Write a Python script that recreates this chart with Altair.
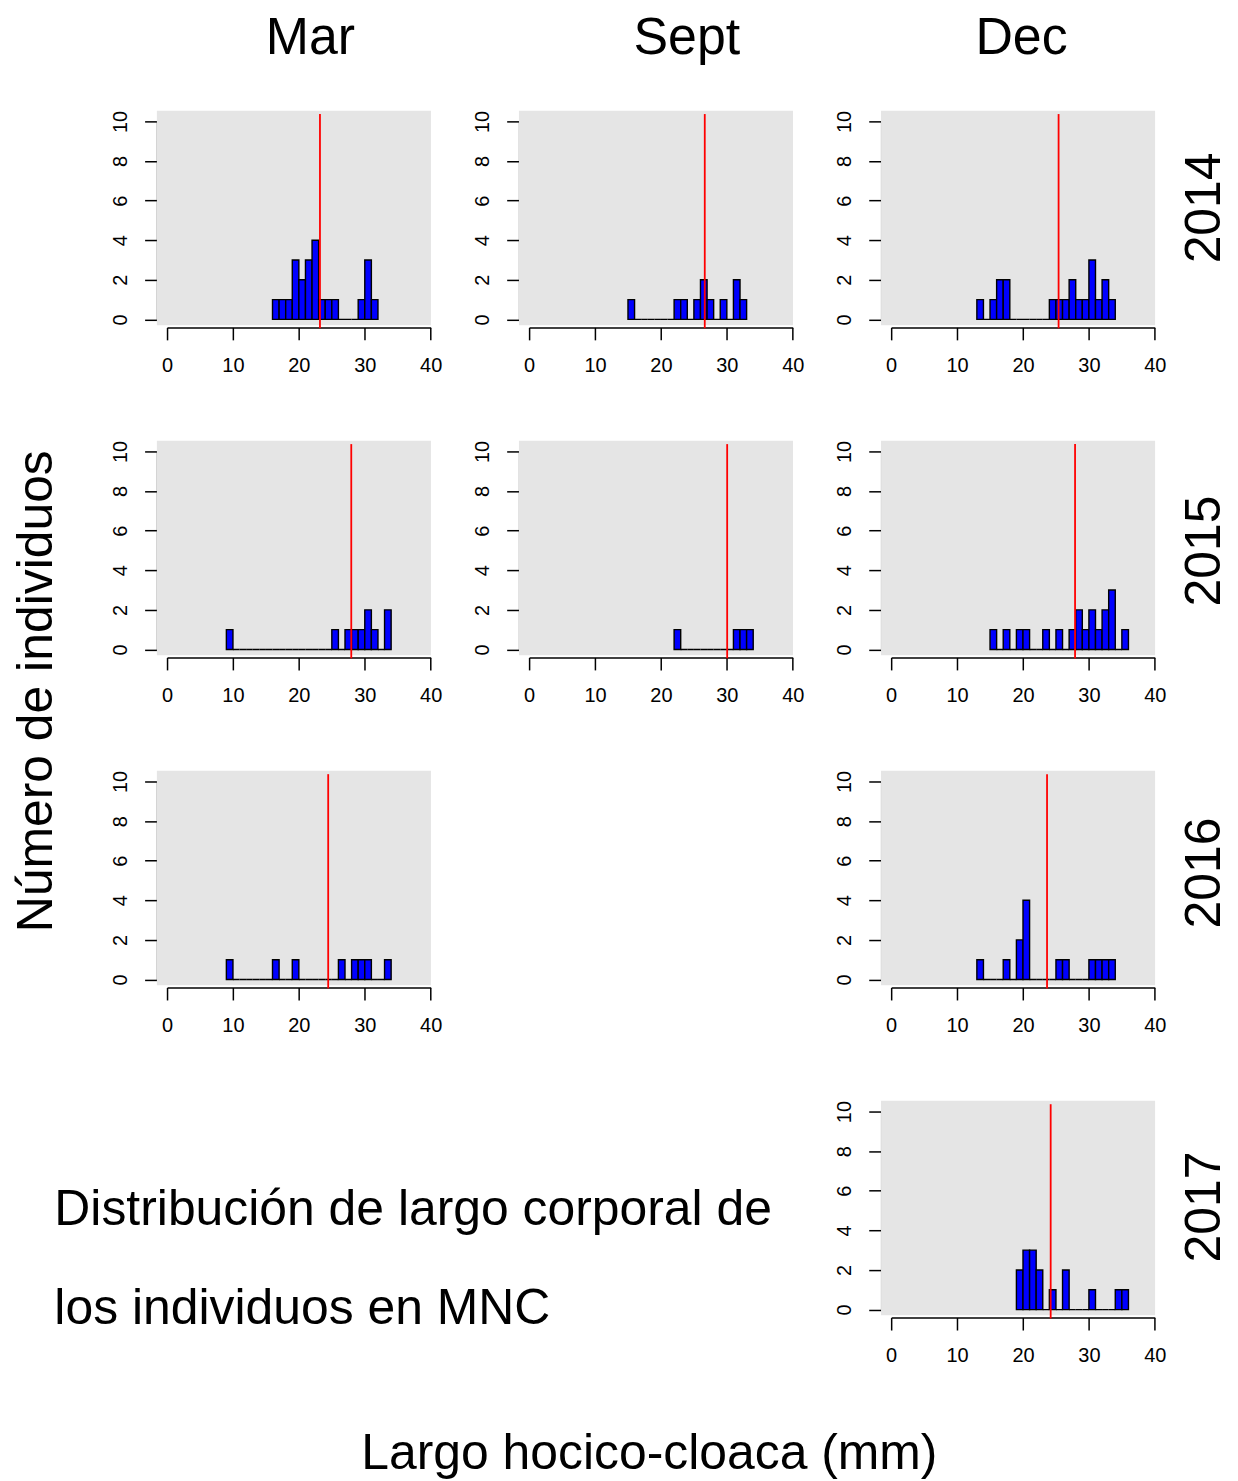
import altair as alt
import pandas as pd

MONTHS = ["Mar", "Sept", "Dec"]
YEARS = ["2014", "2015", "2016", "2017"]
X_TICKS = [0, 10, 20, 30, 40]
Y_TICKS = [0, 2, 4, 6, 8, 10]

# Counts per 1-mm size class; first class starts at the *_START value (mm)
MAR_2014_START = 16
MAR_2014 = [1, 1, 1, 3, 2, 3, 4, 1, 1, 1, 0, 0, 0, 1, 3, 1]
SEPT_2014_START = 15
SEPT_2014 = [1, 0, 0, 0, 0, 0, 0, 1, 1, 0, 1, 2, 1, 0, 1, 0, 2, 1]
DEC_2014_START = 13
DEC_2014 = [1, 0, 1, 2, 2, 0, 0, 0, 0, 0, 0, 1, 1, 1, 2, 1, 1, 3, 1, 2, 1]
MAR_2015_START = 9
MAR_2015 = [1, 0, 0, 0, 0, 0, 0, 0, 0, 0, 0, 0, 0, 0, 0, 0, 1, 0, 1, 1, 1, 2, 1, 0, 2]
SEPT_2015_START = 22
SEPT_2015 = [1, 0, 0, 0, 0, 0, 0, 0, 0, 1, 1, 1]
DEC_2015_START = 15
DEC_2015 = [1, 0, 1, 0, 1, 1, 0, 0, 1, 0, 1, 0, 1, 2, 1, 2, 1, 2, 3, 0, 1]
MAR_2016_START = 9
MAR_2016 = [1, 0, 0, 0, 0, 0, 0, 1, 0, 0, 1, 0, 0, 0, 0, 0, 0, 1, 0, 1, 1, 1, 0, 0, 1]
DEC_2016_START = 13
DEC_2016 = [1, 0, 0, 0, 1, 0, 2, 4, 0, 0, 0, 0, 1, 1, 0, 0, 0, 1, 1, 1, 1]
DEC_2017_START = 19
DEC_2017 = [2, 3, 3, 2, 0, 1, 0, 2, 0, 0, 0, 1, 0, 0, 0, 1, 1]

# mean length (red line), mm
MEANS = {
    ("2014", "Mar"): 23.2, ("2014", "Sept"): 26.65, ("2014", "Dec"): 25.4,
    ("2015", "Mar"): 27.95, ("2015", "Sept"): 30.05, ("2015", "Dec"): 27.9,
    ("2016", "Mar"): 24.45, ("2016", "Dec"): 23.65,
    ("2017", "Dec"): 24.2,
}

DESC = "Distribución de largo corporal de\nlos individuos en MNC"
Y_TITLE = "Número de individuos"
X_TITLE = "Largo hocico-cloaca (mm)"

FONT = "Liberation Sans"
W, H = 264.4, 198.6
GRAY = "#E5E5E5"
BG_X = (-1.54, 40.04)
BG_Y = (-0.29, 10.54)
LINE_Y = (-0.45, 10.37)

HEADER_DX = {"Mar": 11.5, "Sept": 26, "Dec": -1.5}
YEAR_DY = {"2014": -13, "2015": 0, "2016": -8, "2017": -4}

xs = alt.Scale(domain=[0, 40], nice=False, zero=False)
ys = alt.Scale(domain=[0, 10], nice=False, zero=False)

common_axis = dict(
    domainColor="black", tickColor="black", labelColor="black",
    domainWidth=1.5, tickWidth=1.5, tickSize=12.5, grid=False,
    labelFont=FONT, labelFontSize=20, labelFlush=False, labelOverlap=False,
    titleFont=FONT, titleFontWeight="normal", titleColor="black",
)


def panel(year, month, start, counts, header=False, row_label=False,
          y_title=False, x_title=False):
    df = pd.DataFrame({"lo": [start + i for i in range(len(counts))],
                       "count": counts})
    df["hi"] = df["lo"] + 1

    xkw = dict(common_axis, orient="bottom", values=X_TICKS, offset=8,
               labelPadding=16, title=None)
    if x_title:
        xkw.update(title=X_TITLE, titleFontSize=50, titleX=-243, titleY=151,
                   titleBaseline="alphabetic", titleAlign="center")
    ykw = dict(common_axis, orient="left", values=Y_TICKS, offset=10,
               labelPadding=18, labelAngle=270, labelAlign="center",
               labelBaseline="alphabetic", title=None)
    if y_title:
        ykw.update(title=Y_TITLE, titleFontSize=50, titleAngle=270,
                   titleBaseline="alphabetic", titleAlign="center",
                   titleX=-106, titleY=240)

    if row_label:
        bg_yax = None
        line_yax = alt.Axis(orient="right", title=year, domain=False,
                            ticks=False, labels=False, grid=False,
                            titleFont=FONT, titleFontSize=50,
                            titleFontWeight="normal", titleColor="black",
                            titleAngle=270, titleBaseline="alphabetic",
                            titleAlign="center", titleX=65,
                            titleY=H / 2 + YEAR_DY[year])
    else:
        bg_yax = alt.Axis(**ykw)
        line_yax = alt.Axis(**ykw)

    bg = alt.Chart(pd.DataFrame({"k": [0]})).mark_rect(color=GRAY).encode(
        x=alt.XDatum(BG_X[0], scale=xs, axis=alt.Axis(**xkw)),
        x2=alt.X2Datum(BG_X[1]),
        y=alt.YDatum(BG_Y[0], scale=ys, axis=bg_yax),
        y2=alt.Y2Datum(BG_Y[1]),
    )
    bars = alt.Chart(df).mark_rect(fill="#0000FF", stroke="black",
                                   strokeWidth=1.4).encode(
        x=alt.X("lo:Q", scale=xs, axis=alt.Axis(**xkw)),
        x2="hi:Q",
        y=alt.Y("count:Q", scale=ys, axis=alt.Axis(**ykw)),
        y2=alt.Y2Datum(0),
    )
    line = alt.Chart(pd.DataFrame({"k": [0]})).mark_rule(
        color="#FF0000", strokeWidth=1.8).encode(
        x=alt.XDatum(MEANS[(year, month)], scale=xs, axis=alt.Axis(**xkw)),
        y=alt.YDatum(LINE_Y[0], scale=ys, axis=line_yax),
        y2=alt.Y2Datum(LINE_Y[1]),
    )
    ch = alt.layer(bg, bars, line).properties(width=W, height=H)
    if row_label:
        ch = ch.resolve_axis(y="independent")
    if header:
        ch = ch.properties(title=alt.TitleParams(
            text=month, font=FONT, fontSize=52, fontWeight="normal",
            color="black", anchor="middle", frame="group",
            baseline="alphabetic", offset=4, dx=HEADER_DX[month]))
    return ch


def empty():
    return alt.Chart(pd.DataFrame({"k": [0]})).mark_point(opacity=0).encode(
        x=alt.value(0), y=alt.value(0)).properties(width=W, height=H)


desc = alt.Chart(pd.DataFrame({"label": [DESC]})).mark_text(
    align="left", baseline="alphabetic", font=FONT, fontSize=50,
    lineBreak="\n", lineHeight=99, color="black").encode(
    text="label:N", x=alt.value(-113), y=alt.value(114)).properties(width=W, height=H)

cells = [
    panel("2014", "Mar", MAR_2014_START, MAR_2014, header=True),
    panel("2014", "Sept", SEPT_2014_START, SEPT_2014, header=True),
    panel("2014", "Dec", DEC_2014_START, DEC_2014, header=True, row_label=True),
    panel("2015", "Mar", MAR_2015_START, MAR_2015, y_title=True),
    panel("2015", "Sept", SEPT_2015_START, SEPT_2015),
    panel("2015", "Dec", DEC_2015_START, DEC_2015, row_label=True),
    panel("2016", "Mar", MAR_2016_START, MAR_2016),
    empty(),
    panel("2016", "Dec", DEC_2016_START, DEC_2016, row_label=True),
    desc,
    empty(),
    panel("2017", "Dec", DEC_2017_START, DEC_2017, row_label=True, x_title=True),
]

chart = alt.concat(*cells, columns=3, spacing={"row": 132, "column": 98.1},
                   bounds="flush").properties(
    padding={"left": 2.5, "top": 1.6, "right": 0, "bottom": 0}
).configure_view(stroke=None)

chart.save("out.html", embed_options={"renderer": "svg", "actions": False})
